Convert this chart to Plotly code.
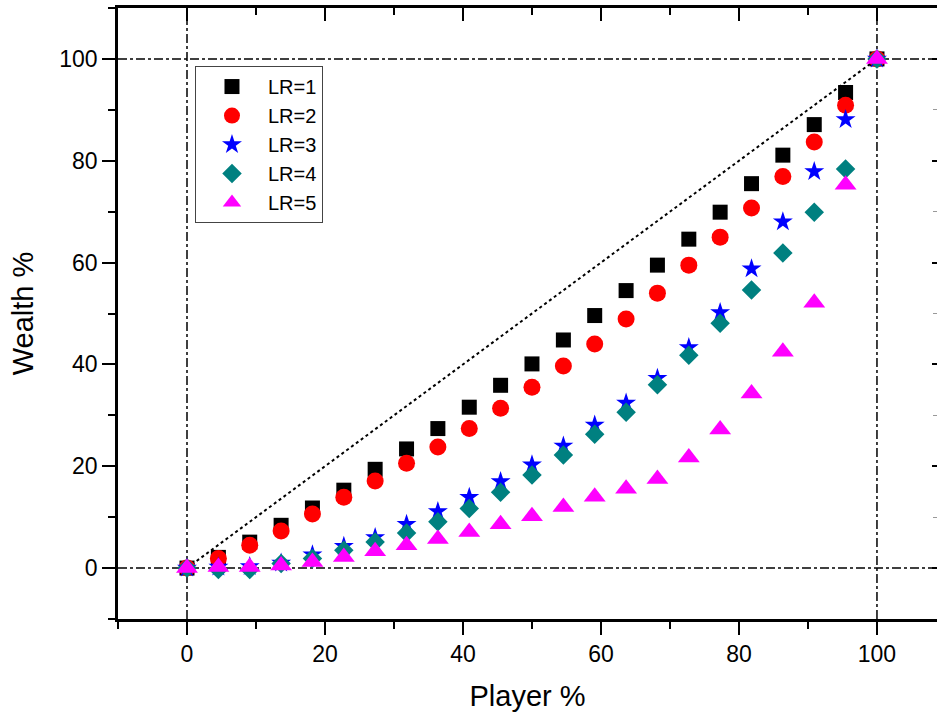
import plotly.graph_objects as go

# ---- data ----
player_pct = [0, 4.55, 9.09, 13.64, 18.18, 22.73, 27.27, 31.82, 36.36, 40.91, 45.45, 50.0,
              54.55, 59.09, 63.64, 68.18, 72.73, 77.27, 81.82, 86.36, 90.91, 95.45, 100]
lr1 = [0, 2.1, 5.1, 8.4, 11.8, 15.3, 19.4, 23.4, 27.4, 31.6, 35.9, 40.1,
       44.8, 49.6, 54.5, 59.5, 64.6, 69.9, 75.5, 81.1, 87.1, 93.4, 100]
lr2 = [0, 1.9, 4.5, 7.3, 10.6, 13.9, 17.1, 20.6, 23.8, 27.4, 31.4, 35.5,
       39.7, 44.0, 48.9, 54.0, 59.5, 65.0, 70.7, 76.9, 83.7, 90.9, 100]
lr3 = [0, 0.2, 0.3, 1.0, 2.6, 4.3, 6.0, 8.6, 11.1, 13.9, 17.0, 20.3,
       24.0, 28.1, 32.4, 37.3, 43.3, 50.2, 58.8, 68.0, 77.9, 88.1, 100]
lr4 = [0, -0.3, -0.3, 0.9, 1.9, 3.5, 5.1, 6.9, 9.1, 11.7, 14.9, 18.3,
       22.2, 26.3, 30.6, 36.0, 41.8, 48.1, 54.6, 61.9, 69.9, 78.4, 100]
lr5 = [0, 0.2, 0.2, 0.5, 1.2, 2.2, 3.3, 4.5, 5.7, 7.1, 8.6, 10.2,
       12.0, 14.0, 15.6, 17.5, 21.7, 27.2, 34.3, 42.5, 52.1, 75.3, 100]
series_names = ["LR=1", "LR=2", "LR=3", "LR=4", "LR=5"]
equality = [0, 100]
ref_levels = [0, 100]
x_ticks = [0, 20, 40, 60, 80, 100]
y_ticks = [0, 20, 40, 60, 80, 100]

# ---- styles ----
FONT = "Liberation Sans, Arial, sans-serif"
styles = [
    dict(symbol="square", color="#000000", size=15),
    dict(symbol="circle", color="#FF0000", size=17),
    dict(symbol="star", color="#0000FF", size=15),
    dict(symbol="diamond", color="#008080", size=15),
    dict(symbol="triangle-up", color="#FF00FF", size=19),
]
X_RANGE = [-10, 108.7]
Y_RANGE = [-10, 110]

fig = go.Figure()

# equality (dotted) line
fig.add_trace(go.Scatter(x=equality, y=equality, mode="lines",
                         line=dict(color="black", width=2, dash="dot"),
                         showlegend=False, hoverinfo="skip"))

for name, ys, st in zip(series_names, [lr1, lr2, lr3, lr4, lr5], styles):
    fig.add_trace(go.Scatter(x=player_pct, y=ys, mode="markers", name=name,
                             marker=dict(symbol=st["symbol"], color=st["color"],
                                         size=st["size"], line=dict(width=0))))

# dummy trace for the mirrored (inside-tick) top / right axes
fig.add_trace(go.Scatter(x=[None], y=[None], xaxis="x2", yaxis="y2",
                         showlegend=False, hoverinfo="skip"))

# dash-dot reference lines
for v in ref_levels:
    fig.add_shape(type="line", xref="x", yref="paper", x0=v, x1=v, y0=0, y1=1,
                  line=dict(color="black", width=1.5, dash="dashdot"), layer="below")
    fig.add_shape(type="line", xref="paper", yref="y", x0=0, x1=1, y0=v, y1=v,
                  line=dict(color="black", width=1.5, dash="dashdot"), layer="below")

axis_common = dict(showgrid=False, zeroline=False, linecolor="black", linewidth=2.5,
                   tickcolor="black", tickwidth=2, automargin=False,
                   tickfont=dict(family=FONT, size=23, color="black"))

fig.update_layout(
    width=937, height=714,
    margin=dict(l=118, r=0, t=8, b=95),
    paper_bgcolor="white", plot_bgcolor="white",
    font=dict(family=FONT, color="black"),
    xaxis=dict(range=X_RANGE, showline=True, ticks="outside", ticklen=13,
               tickvals=x_ticks,
               minor=dict(dtick=10, tick0=0, ticks="outside", ticklen=7, tickwidth=2, tickcolor="black"),
               title=dict(text="Player %", font=dict(family=FONT, size=29), standoff=20),
               **axis_common),
    yaxis=dict(range=Y_RANGE, showline=True, ticks="outside", ticklen=13,
               tickvals=y_ticks,
               minor=dict(dtick=10, tick0=0, ticks="outside", ticklen=7, tickwidth=2, tickcolor="black"),
               title=dict(text="Wealth %", font=dict(family=FONT, size=29), standoff=18),
               **axis_common),
    xaxis2=dict(range=X_RANGE, overlaying="x", side="top", anchor="y2", showline=True,
                ticks="inside", ticklen=13, tickvals=x_ticks, showticklabels=False,
                minor=dict(dtick=10, tick0=0, ticks="inside", ticklen=7, tickwidth=2, tickcolor="black"),
                **axis_common),
    yaxis2=dict(range=Y_RANGE, overlaying="y", side="right", anchor="x2", showline=False,
                ticks="inside", ticklen=5, tickvals=y_ticks, showticklabels=False,
                minor=dict(dtick=10, tick0=0, ticks="inside", ticklen=4, tickwidth=1, tickcolor="#999999"),
                **axis_common),
    legend=dict(x=0.094, y=0.905, xanchor="left", yanchor="top",
                bgcolor="white", bordercolor="#444444", borderwidth=1,
                font=dict(family=FONT, size=20, color="black"),
                itemsizing="trace", itemwidth=62),
    showlegend=True,
)

fig.write_html("out.html", config={"displayModeBar": False},
               post_script="document.body.style.margin='0';document.body.style.overflow='hidden';")
